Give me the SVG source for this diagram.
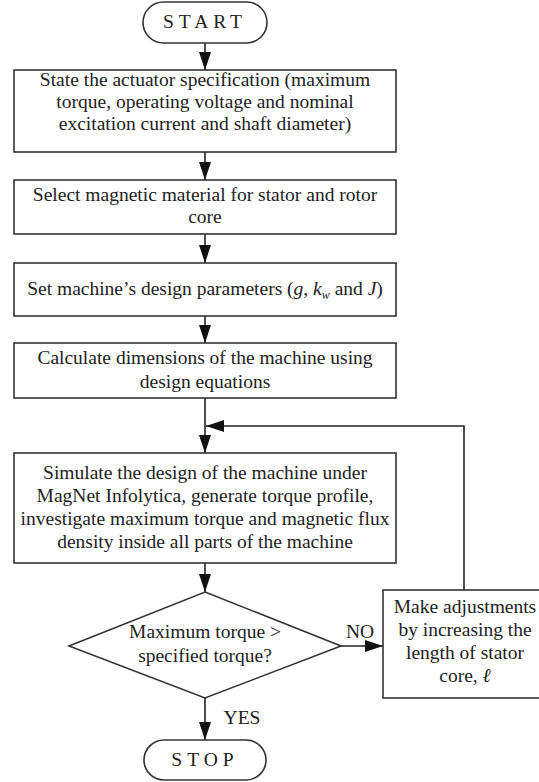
<svg xmlns="http://www.w3.org/2000/svg" width="539" height="782" viewBox="0 0 539 782">
<defs>
<marker id="ah" markerUnits="userSpaceOnUse" markerWidth="18" markerHeight="12" refX="18" refY="6" orient="auto">
<path d="M0,0 L18,6 L0,12 Z" fill="#111"/>
</marker>
</defs>
<style>
.sh{fill:#fff;stroke:#333;stroke-width:1.6}
.c{fill:none;stroke:#222;stroke-width:1.6}
.i{font-style:italic}
</style>
<rect width="539" height="782" fill="#fff"/>
<g font-family="Liberation Serif, Times New Roman, DejaVu Serif, serif" font-size="19.5" fill="#222" text-anchor="middle">
<g id="connectors">
<line class="c" x1="205" y1="43" x2="205" y2="70" marker-end="url(#ah)"/>
<line class="c" x1="205" y1="152" x2="205" y2="180" marker-end="url(#ah)"/>
<line class="c" x1="205" y1="234" x2="205" y2="263" marker-end="url(#ah)"/>
<line class="c" x1="205" y1="316" x2="205" y2="343" marker-end="url(#ah)"/>
<line class="c" x1="205" y1="398" x2="205" y2="453" marker-end="url(#ah)"/>
<polyline class="c" points="464,590 464,426 206,426" marker-end="url(#ah)"/>
<line class="c" x1="205" y1="563" x2="205" y2="592" marker-end="url(#ah)"/>
<line class="c" x1="341" y1="646" x2="383" y2="646" marker-end="url(#ah)"/>
<line class="c" x1="205" y1="698" x2="205" y2="740" marker-end="url(#ah)"/>
<text x="360" y="638">NO</text>
<text x="242" y="724">YES</text>
</g>
<g id="start">
<rect class="sh" x="143" y="2" width="124" height="41" rx="20.5"/>
<text x="205" y="28" letter-spacing="5">START</text>
</g>
<g id="spec">
<rect class="sh" x="14" y="70" width="382" height="82"/>
<text x="205" y="86">State the actuator specification (maximum</text>
<text x="205" y="108">torque, operating voltage and nominal</text>
<text x="205" y="130">excitation current and shaft diameter)</text>
</g>
<g id="material">
<rect class="sh" x="14" y="180" width="382" height="54"/>
<text x="205" y="201">Select magnetic material for stator and rotor</text>
<text x="205" y="223">core</text>
</g>
<g id="params">
<rect class="sh" x="14" y="263" width="382" height="53"/>
<text x="205" y="295">Set machine’s design parameters (<tspan class="i">g</tspan>, <tspan class="i">k</tspan><tspan class="i" font-size="12" dy="4">w</tspan><tspan dy="-4"> and </tspan><tspan class="i">J</tspan>)</text>
</g>
<g id="dims">
<rect class="sh" x="14" y="343" width="382" height="55"/>
<text x="205" y="364">Calculate dimensions of the machine using</text>
<text x="205" y="388">design equations</text>
</g>
<g id="simulate">
<rect class="sh" x="14" y="453" width="382" height="110"/>
<text x="205" y="479">Simulate the design of the machine under</text>
<text x="205" y="502">MagNet Infolytica, generate torque profile,</text>
<text x="205" y="525">investigate maximum torque and magnetic flux</text>
<text x="205" y="548">density inside all parts of the machine</text>
</g>
<g id="decision">
<polygon class="sh" points="205,592 341,646 205,698 69,646"/>
<text x="205" y="638">Maximum torque &gt;</text>
<text x="205" y="662">specified torque?</text>
</g>
<g id="adjust">
<rect class="sh" x="383" y="590" width="162" height="108"/>
<text x="465" y="613">Make adjustments</text>
<text x="465" y="636">by increasing the</text>
<text x="465" y="659">length of stator</text>
<text x="465" y="682">core, <tspan class="i">ℓ</tspan></text>
</g>
<g id="stop">
<rect class="sh" x="144" y="740" width="122" height="40" rx="20"/>
<text x="205" y="766" letter-spacing="5">STOP</text>
</g>
</g>
</svg>
